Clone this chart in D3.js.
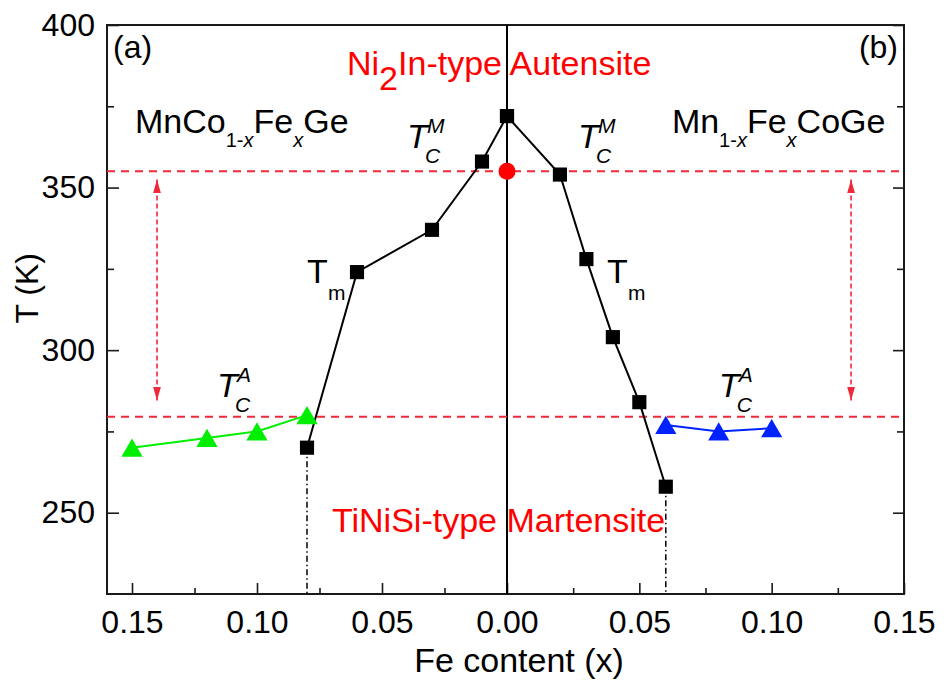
<!DOCTYPE html>
<html>
<head>
<meta charset="utf-8">
<script src="https://cdn.jsdelivr.net/npm/d3@7"></script>
<style>
  body { margin: 0; background: #fff; }
  svg text { font-family: 'Liberation Sans', Arial, sans-serif; }
</style>
</head>
<body>
<div class="container"></div>
<script>
// data: (a) MnCo1-xFexGe, drawn on the left half
const xTmA = [0.00, 0.01, 0.03, 0.06, 0.08];
const tTmA = [372, 358, 337, 324, 270];
const xTcA = [0.15, 0.12, 0.10, 0.08];
const tTcA = [270, 273, 275, 280];

// data: (b) Mn1-xFexCoGe, drawn on the right half
const xTmB = [0.00, 0.02, 0.03, 0.04, 0.05, 0.06];
const tTmB = [372, 354, 328, 304, 284, 258];
const xTcB = [0.06, 0.08, 0.10];
const tTcB = [277, 275, 276];

// TC of martensite in the parent compound, and the temperature window
const parentTc = [355];
const windowT = [355, 279.5];
const arrowT = [352.5, 284.5];

// ticks
const xTicksA = [0.15, 0.10, 0.05, 0.00];
const xTicksB = [0.05, 0.10, 0.15];
const xMinorA = [0.125, 0.075, 0.025];
const xMinorB = [0.025, 0.075, 0.125];
const yTicks = [250, 300, 350, 400];
const yMinor = [275, 325, 375];

// config
const config = {
  svg: { width: 944, height: 689 },
  margin: { top: 25, right: 40, bottom: 95, left: 107 },
  split: 400, // px from plot left where x = 0 sits
  color: {
    ink: '#000',
    axis: '#1a1a1a',
    red: '#ff0000',
    dash: '#ee2a3a',
    green: '#00ee00',
    blue: '#0022ff',
  },
  tickFont: 32,
  font: 34,
  small: 21,
};

const W = config.svg.width - config.margin.left - config.margin.right;
const H = config.svg.height - config.margin.top - config.margin.bottom;

const xa = d3.scaleLinear().domain([0.16, 0]).range([0, config.split]);
const xb = d3.scaleLinear().domain([0, 0.15]).range([config.split, W]);
const y = d3.scaleLinear().domain([225, 400]).range([H, 0]);

const svg = d3.select('.container').append('svg')
  .attr('width', config.svg.width)
  .attr('height', config.svg.height);

const g = svg.append('g')
  .attr('transform', `translate(${config.margin.left},${config.margin.top})`);

// arrow head
svg.append('defs').append('marker')
  .attr('id', 'arrow')
  .attr('viewBox', '0 -4 14 8')
  .attr('refX', 14).attr('refY', 0)
  .attr('markerWidth', 14).attr('markerHeight', 8)
  .attr('markerUnits', 'userSpaceOnUse')
  .attr('orient', 'auto-start-reverse')
  .append('path')
  .attr('d', 'M0,-4L14,0L0,4Z')
  .attr('fill', config.color.dash);

// axes
function styleAxis(sel) {
  sel.select('.domain').remove();
  sel.selectAll('line').attr('stroke', config.color.axis).attr('stroke-width', 1.6);
  sel.selectAll('text')
    .attr('fill', config.color.ink)
    .style('font-size', config.tickFont + 'px');
}
const fmt = d3.format('.2f');
g.append('g').attr('transform', `translate(0,${H})`)
  .call(d3.axisBottom(xa).tickValues(xTicksA).tickSize(-11).tickPadding(16).tickFormat(fmt))
  .call(styleAxis);
g.append('g').attr('transform', `translate(0,${H})`)
  .call(d3.axisBottom(xb).tickValues(xTicksB).tickSize(-11).tickPadding(16).tickFormat(fmt))
  .call(styleAxis);
g.append('g').attr('transform', `translate(0,${H})`)
  .call(d3.axisBottom(xa).tickValues(xMinorA).tickSize(-6).tickFormat(''))
  .call(styleAxis);
g.append('g').attr('transform', `translate(0,${H})`)
  .call(d3.axisBottom(xb).tickValues(xMinorB).tickSize(-6).tickFormat(''))
  .call(styleAxis);
g.append('g')
  .call(d3.axisLeft(y).tickValues(yTicks).tickSize(-12).tickPadding(12))
  .call(styleAxis);
g.append('g')
  .call(d3.axisLeft(y).tickValues(yMinor).tickSize(-7).tickFormat(''))
  .call(styleAxis);
g.append('g').attr('transform', `translate(${W},0)`)
  .call(d3.axisRight(y).tickValues(yTicks).tickSize(-11).tickFormat(''))
  .call(styleAxis);
g.append('g').attr('transform', `translate(${W},0)`)
  .call(d3.axisRight(y).tickValues(yMinor).tickSize(-7).tickFormat(''))
  .call(styleAxis);

// frame
g.append('rect')
  .attr('width', W).attr('height', H)
  .attr('fill', 'none')
  .attr('stroke', config.color.axis)
  .attr('stroke-width', 2);

// x = 0 divider
g.append('line')
  .attr('x1', xa(0)).attr('x2', xa(0))
  .attr('y1', 0).attr('y2', H)
  .attr('stroke', config.color.ink).attr('stroke-width', 2);

// axis titles
g.append('text')
  .attr('transform', `translate(${-config.margin.left + 38},${y(319)}) rotate(-90)`)
  .attr('text-anchor', 'middle')
  .style('font-size', config.tickFont + 'px')
  .text('T (K)');
g.append('text')
  .attr('x', xa(0) + 12).attr('y', H + 78)
  .attr('text-anchor', 'middle')
  .style('font-size', config.font + 'px')
  .text('Fe content (x)');

// horizontal window lines
g.selectAll('.window')
  .data(windowT)
  .enter().append('line')
  .attr('x1', 0).attr('x2', W)
  .attr('y1', d => y(d)).attr('y2', d => y(d))
  .attr('stroke', config.color.dash)
  .attr('stroke-width', 2)
  .attr('stroke-dasharray', '8,6');

// double arrows
[xa(0.14), xb(0.13)].forEach(px => {
  g.append('line')
    .attr('x1', px).attr('x2', px)
    .attr('y1', y(arrowT[0])).attr('y2', y(arrowT[1]))
    .attr('stroke', config.color.dash)
    .attr('stroke-width', 1.6)
    .attr('stroke-dasharray', '5,3')
    .attr('marker-start', 'url(#arrow)')
    .attr('marker-end', 'url(#arrow)');
});

// drop lines to axis
[[xa(xTmA[xTmA.length - 1]), tTmA[tTmA.length - 1]],
 [xb(xTmB[xTmB.length - 1]), tTmB[tTmB.length - 1]]].forEach(([px, t]) => {
  g.append('line')
    .attr('x1', px).attr('x2', px)
    .attr('y1', y(t)).attr('y2', H)
    .attr('stroke', config.color.ink)
    .attr('stroke-width', 1.5)
    .attr('stroke-dasharray', '6,3,1.5,3');
});

// series
const series = [
  { xs: xTcA, ts: tTcA, sx: xa, color: config.color.green, shape: 'tri' },
  { xs: xTcB, ts: tTcB, sx: xb, color: config.color.blue, shape: 'tri' },
  { xs: xTmA, ts: tTmA, sx: xa, color: config.color.ink, shape: 'sq' },
  { xs: xTmB, ts: tTmB, sx: xb, color: config.color.ink, shape: 'sq' },
];

series.forEach(s => {
  const pts = s.xs.map((v, i) => [s.sx(v), y(s.ts[i])]);
  g.append('path')
    .attr('d', d3.line()(pts))
    .attr('fill', 'none')
    .attr('stroke', s.color)
    .attr('stroke-width', 2);
});
series.forEach(s => {
  const pts = s.xs.map((v, i) => [s.sx(v), y(s.ts[i])]);
  const sym = s.shape === 'sq'
    ? d3.symbol(d3.symbolSquare, 200)
    : d3.symbol(d3.symbolTriangle, 195);
  const shift = s.shape === 'sq' ? 0 : 3;
  g.selectAll(null)
    .data(pts)
    .enter().append('path')
    .attr('d', sym)
    .attr('transform', d => `translate(${d[0]},${d[1] + shift})`)
    .attr('fill', s.color);
});

// parent compound point
g.selectAll('.parent')
  .data(parentTc)
  .enter().append('circle')
  .attr('cx', xa(0)).attr('cy', d => y(d))
  .attr('r', 8.5)
  .attr('fill', config.color.red);

// labels
function label(x, yy, parts, opts = {}) {
  const t = g.append('text')
    .attr('x', x).attr('y', yy)
    .attr('fill', opts.color || config.color.ink)
    .attr('text-anchor', opts.anchor || 'start')
    .style('font-size', (opts.size || config.font) + 'px');
  parts.forEach(p => {
    const ts = t.append('tspan').text(p.t);
    if (p.dy) ts.attr('dy', p.dy);
    if (p.small) ts.style('font-size', config.small + 'px');
    if (p.size) ts.style('font-size', p.size + 'px');
    if (p.it) ts.style('font-style', 'italic');
  });
  return t;
}

label(6, 33, [{ t: '(a)' }], { size: config.tickFont });
label(W - 6, 33, [{ t: '(b)' }], { anchor: 'end', size: config.tickFont });

label(xa(0.0640), y(384.7), [
  { t: 'Ni' }, { t: '2', dy: 15 }, { t: 'In-type Autensite', dy: -15 }
], { color: config.color.red });

label(xa(0.0700), y(244.1), [{ t: 'TiNiSi-type Martensite' }], { color: config.color.red });

label(xa(0.1488), y(366.8), [
  { t: 'MnCo' }, { t: '1-', dy: 14, size: 20 }, { t: 'x', it: true, size: 20 },
  { t: 'Fe', dy: -14 }, { t: 'x', dy: 14, it: true, size: 20 }, { t: 'Ge', dy: -14 }
]);
label(xb(0.0623), y(366.8), [
  { t: 'Mn' }, { t: '1-', dy: 14, size: 20 }, { t: 'x', it: true, size: 20 },
  { t: 'Fe', dy: -14 }, { t: 'x', dy: 14, it: true, size: 20 }, { t: 'CoGe', dy: -14 }
]);

// T_C with superscript and subscript
function tc(x, base, sup) {
  label(x, base, [{ t: 'T', it: true }]);
  label(x + 20, base - 15, [{ t: sup, it: true, small: true }]);
  label(x + 18, base + 15, [{ t: 'C', it: true, small: true }]);
}
tc(xa(0.0400), y(362.2), 'M');
tc(xb(0.0268), y(362.2), 'M');
tc(xa(0.1160), y(285.6), 'A');
tc(xb(0.0800), y(285.6), 'A');

// T_m labels
function tm(x, base) {
  label(x, base, [{ t: 'T' }]);
  label(x + 21, base + 17, [{ t: 'm', small: true }]);
}
tm(xa(0.0800), y(320.7));
tm(xb(0.0378), y(320.7));
</script>
</body>
</html>
